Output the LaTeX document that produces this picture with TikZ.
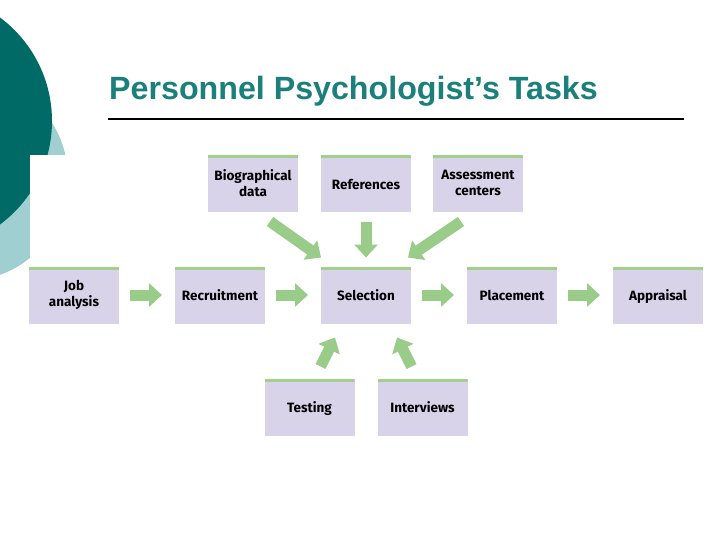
\documentclass[tikz,border=0pt]{standalone}
\usepackage{fontspec}
\setmainfont{Liberation Sans}
\newfontfamily\boxfont{Fira Sans}
\usepackage{tikz}
\usetikzlibrary{arrows.meta, positioning}
\definecolor{tealdark}{HTML}{006B66}
\definecolor{teallight}{HTML}{9FCFD0}
\definecolor{titleteal}{HTML}{1B7F7C}
\definecolor{taskfill}{HTML}{D9D3E9}
\definecolor{stripgreen}{HTML}{A3CF8C}
\definecolor{arrowgreen}{HTML}{99CC88}
\newcommand\taskstrut{\rule[-2pt]{0pt}{15pt}}

\begin{document}
\begin{tikzpicture}[
   x=1pt, y=-1pt, node distance = 54pt and 56pt,
   task/.style = {rectangle, fill=taskfill, minimum width=90pt, minimum height=57pt,
                  inner sep=2pt, outer sep=0pt, align=center,
                  font=\boxfont\bfseries\fontsize{13.5}{16}\selectfont,
                  execute at begin node=\taskstrut, execute at end node=\taskstrut,
                  path picture={\fill[stripgreen] (path picture bounding box.north west)
                     rectangle ([yshift=-3pt]path picture bounding box.north east);}},
   bigarrow/.style = {draw=arrowgreen, line width=11pt,
                      -{Triangle[length=13pt, width=23pt]}}]
  \useasboundingbox (0,0) rectangle (720,540);
  \fill[white] (0,0) rectangle (720,540);
  \begin{scope}
    \clip (0,0) rectangle (720,540);
    \fill[teallight] (-35,178) circle[radius=103pt];
    \fill[tealdark] (-77,121) circle[radius=129pt];
    \fill[white] (30,155) rectangle (720,540);
  \end{scope}

  \node[anchor=base west, inner sep=0pt, text=titleteal, font=\bfseries\fontsize{32.2}{37}\selectfont]
       (title) at (109,100) {Personnel Psychologist’s Tasks};
  \draw[line width=2pt] (108,119) -- (684,119);

  \node[task] (sel) at (366,295) {Selection};
  \node[task, left=of sel] (rec) {Recruitment};
  \node[task, left=of rec] (job) {Job\\analysis};
  \node[task, right=of sel] (place) {Placement};
  \node[task, right=of place] (appr) {Appraisal};
  \node[task, above=of sel] (ref) {References};
  \node[task, left=23pt of ref] (bio) {Biographical\\data};
  \node[task, right=22pt of ref] (assess) {Assessment\\centers};
  \node[task, below=55pt of sel, xshift=-56.5pt] (test) {Testing};
  \node[task, below=55pt of sel, xshift=56.5pt] (interv) {Interviews};

  \draw[bigarrow] ([xshift=11pt]job.east) -- ([xshift=-13pt]rec.west);
  \draw[bigarrow] ([xshift=11pt]rec.east) -- ([xshift=-13pt]sel.west);
  \draw[bigarrow] ([xshift=11pt]sel.east) -- ([xshift=-13pt]place.west);
  \draw[bigarrow] ([xshift=11pt]place.east) -- ([xshift=-13pt]appr.west);
  \draw[bigarrow] ([xshift=17pt, yshift=-9pt]bio.south) -- ([yshift=9pt]sel.north west);
  \draw[bigarrow] ([yshift=-10pt]ref.south) -- ([yshift=9pt]sel.north);
  \draw[bigarrow] ([xshift=-17pt, yshift=-9pt]assess.south) -- ([xshift=-3pt, yshift=9pt]sel.north east);
  \draw[bigarrow] ([xshift=11pt, yshift=12pt]test.north) -- ([xshift=-31pt, yshift=-14pt]sel.south);
  \draw[bigarrow] ([xshift=-11pt, yshift=12pt]interv.north) -- ([xshift=31pt, yshift=-14pt]sel.south);
\end{tikzpicture}
\end{document}
